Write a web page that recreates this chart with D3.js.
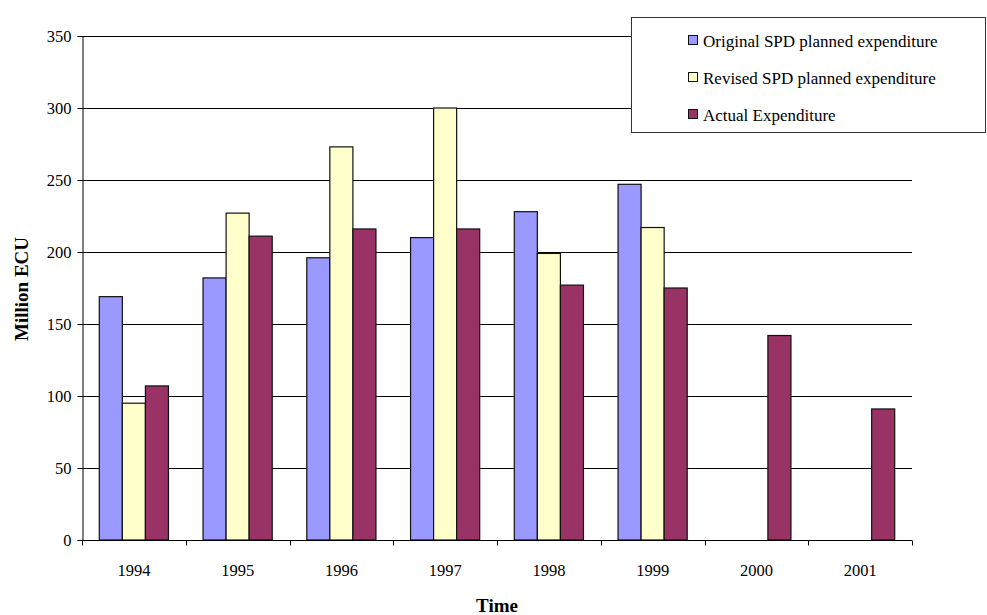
<!DOCTYPE html>
<html>
<head>
<meta charset="utf-8">
<script src="https://cdn.jsdelivr.net/npm/d3@7"></script>
<style>
  html, body { margin: 0; padding: 0; background: #fff; }
  svg { display: block; font-family: "Liberation Serif", "Times New Roman", serif; }
</style>
</head>
<body>
<svg id="chart" width="987" height="615"></svg>
<script>
// Expenditure by year, million ECU (null = no value for that year)
const years = ["1994", "1995", "1996", "1997", "1998", "1999", "2000", "2001"];
const originalPlanned = [169, 182, 196, 210, 228, 247, null, null];
const revisedPlanned  = [95, 227, 273, 300, 199, 217, null, null];
const actualSpend     = [107, 211, 216, 216, 177, 175, 142, 91];
const yTicks = [0, 50, 100, 150, 200, 250, 300, 350];

const seriesNames  = ["Original SPD planned expenditure", "Revised SPD planned expenditure", "Actual Expenditure"];
const seriesColors = ["#9999FF", "#FFFFCC", "#993366"];
const seriesValues = [originalPlanned, revisedPlanned, actualSpend];

const svg = d3.select("#chart");
const plot = { left: 82, right: 912, top: 36, bottom: 540 };

const x = d3.scaleBand().domain(years).range([plot.left, plot.right]).paddingInner(0).paddingOuter(0);
const xs = d3.scaleBand().domain(d3.range(seriesNames.length))
  .range([0, x.bandwidth()]).paddingInner(0).paddingOuter(0.75);
const y = d3.scaleLinear().domain([0, 350]).range([plot.bottom, plot.top]);

// horizontal gridlines
svg.append("g").selectAll("line").data(yTicks.filter(t => t > 0)).join("line")
  .attr("x1", plot.left).attr("x2", plot.right)
  .attr("y1", d => Math.round(y(d)) + 0.5).attr("y2", d => Math.round(y(d)) + 0.5)
  .attr("stroke", "#000").attr("stroke-width", 1);

// bars
const rows = years.map((yr, i) => ({ year: yr, vals: seriesValues.map(s => s[i]) }));
const groups = svg.append("g").selectAll("g").data(rows).join("g")
  .attr("transform", d => `translate(${x(d.year)},0)`);
groups.selectAll("rect")
  .data(d => d.vals.map((v, k) => ({ k, v })).filter(e => e.v != null))
  .join("rect")
  .attr("x", e => xs(e.k))
  .attr("width", xs.bandwidth())
  .attr("y", e => y(e.v))
  .attr("height", e => y(0) - y(e.v))
  .attr("fill", e => seriesColors[e.k])
  .attr("stroke", "#111")
  .attr("stroke-width", 1.2);

// y axis
const yAxis = d3.axisLeft(y).tickValues(yTicks).tickSize(5).tickPadding(6);
const gy = svg.append("g").attr("transform", `translate(${plot.left + 0.5},0)`).call(yAxis);
gy.select(".domain").attr("stroke", "#000");
gy.selectAll(".tick line").attr("stroke", "#000");
gy.selectAll("text").attr("font-family", "Liberation Serif").attr("font-size", 16.5).attr("fill", "#000");

// x axis: ticks sit between categories
const gx = svg.append("g").attr("transform", `translate(0,${plot.bottom + 0.5})`);
gx.append("line").attr("x1", plot.left).attr("x2", plot.right).attr("stroke", "#000");
gx.selectAll("line.tk").data(d3.range(years.length + 1)).join("line").attr("class", "tk")
  .attr("x1", i => Math.round(plot.left + i * x.step()) + 0.5)
  .attr("x2", i => Math.round(plot.left + i * x.step()) + 0.5)
  .attr("y1", 0).attr("y2", 5).attr("stroke", "#000");
gx.selectAll("text").data(years).join("text")
  .attr("x", d => x(d) + x.bandwidth() / 2)
  .attr("y", 35)
  .attr("text-anchor", "middle")
  .attr("font-size", 16.5)
  .text(d => d);

// axis titles
svg.append("text")
  .attr("transform", "translate(28,289) rotate(-90)")
  .attr("text-anchor", "middle")
  .attr("font-weight", "bold").attr("font-size", 19)
  .text("Million ECU");
svg.append("text")
  .attr("x", 497).attr("y", 612)
  .attr("text-anchor", "middle")
  .attr("font-weight", "bold").attr("font-size", 19)
  .text("Time");

// legend
const lg = svg.append("g");
lg.append("rect").attr("x", 631.5).attr("y", 17.5).attr("width", 354).attr("height", 115)
  .attr("fill", "#fff").attr("stroke", "#333").attr("stroke-width", 1);
const items = lg.selectAll("g").data(seriesNames).join("g")
  .attr("transform", (d, i) => `translate(688,${41 + i * 37})`);
items.append("rect").attr("x", 0.5).attr("y", -5.5).attr("width", 9).attr("height", 9)
  .attr("fill", (d, i) => seriesColors[i]).attr("stroke", "#111");
items.append("text").attr("x", 15).attr("y", 6).attr("font-size", 17).text(d => d);
</script>
</body>
</html>
